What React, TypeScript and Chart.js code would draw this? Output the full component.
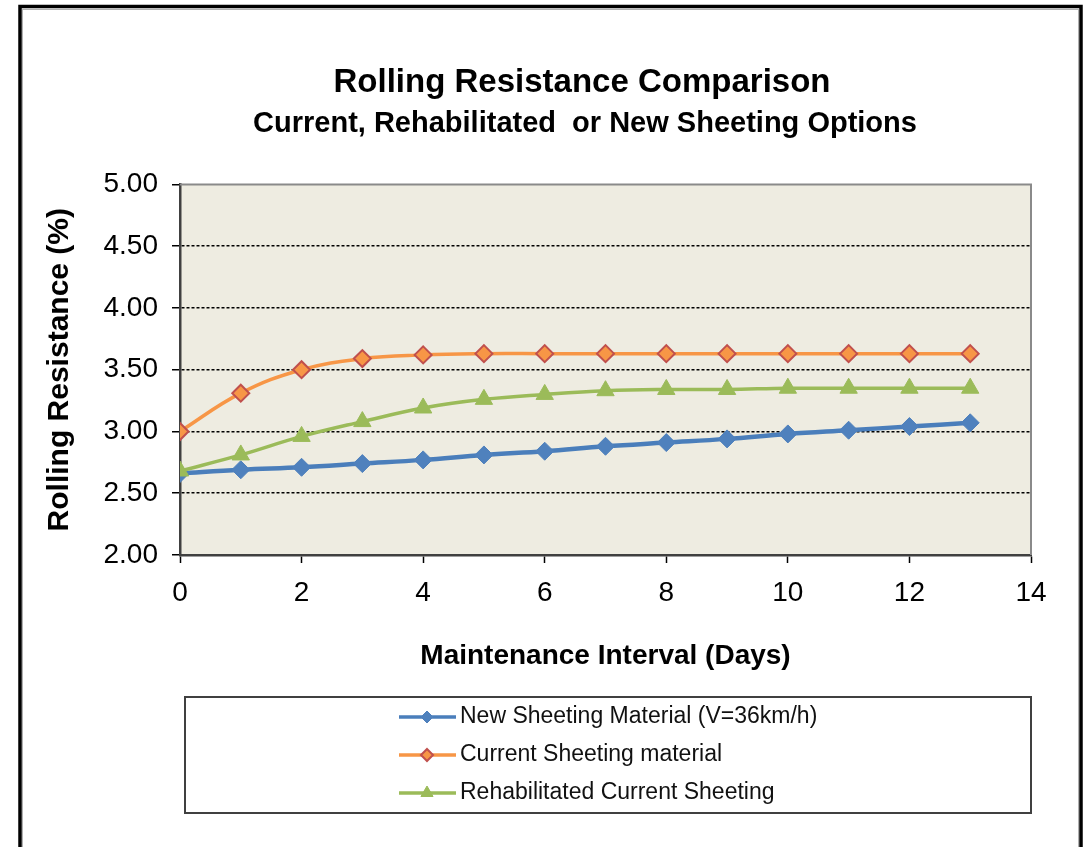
import React, { useEffect, useRef } from "react";
import { Chart, registerables } from "chart.js";

Chart.register(...registerables);

// ---- data ----
const days = [0, 1, 2, 3, 4, 5, 6, 7, 8, 9, 10, 11, 12, 13];
const newSheeting = [2.66, 2.69, 2.71, 2.74, 2.77, 2.81, 2.84, 2.88, 2.91, 2.94, 2.98, 3.01, 3.04, 3.07];
const currentSheeting = [3.0, 3.31, 3.5, 3.59, 3.62, 3.63, 3.63, 3.63, 3.63, 3.63, 3.63, 3.63, 3.63, 3.63];
const rehabSheeting = [2.68, 2.81, 2.96, 3.08, 3.19, 3.26, 3.3, 3.33, 3.34, 3.34, 3.35, 3.35, 3.35, 3.35];

const seriesNames = [
  "New Sheeting Material (V=36km/h)",
  "Current Sheeting material",
  "Rehabilitated Current Sheeting",
];
const titleText = "Rolling Resistance Comparison";
const subtitleText = "Current, Rehabilitated  or New Sheeting Options";
const xTitle = "Maintenance Interval (Days)";
const yTitle = "Rolling Resistance (%)";
const xMin = 0, xMax = 14, xStep = 2;
const yMin = 2, yMax = 5, yStep = 0.5;

const FONT = '"Liberation Sans", Arial, Helvetica, sans-serif';

function pts(ys: number[]) {
  return days.map((d, i) => ({ x: d, y: ys[i] }));
}

function drawMarker(ctx: CanvasRenderingContext2D, style: string, x: number, y: number, r: number) {
  ctx.beginPath();
  if (style === "triangle") {
    const h = r * Math.sin(Math.PI / 3);
    ctx.moveTo(x, y - r);
    ctx.lineTo(x + h, y + r / 2);
    ctx.lineTo(x - h, y + r / 2);
  } else {
    ctx.moveTo(x, y - r);
    ctx.lineTo(x + r, y);
    ctx.lineTo(x, y + r);
    ctx.lineTo(x - r, y);
  }
  ctx.closePath();
}

const framePlugin = {
  id: "frame",
  afterLayout(chart: any) {
    for (const b of chart.boxes) {
      const t = b.options && b.options.text;
      if (t === titleText) {
        b.left = 133;
        b.right = 1031;
      } else if (t === subtitleText) {
        b.left = 139;
        b.right = 1031;
      }
    }
  },
  beforeDraw(chart: any) {
    const { ctx, chartArea: a } = chart;
    ctx.save();
    ctx.fillStyle = "#ffffff";
    ctx.fillRect(0, 0, chart.width, chart.height);
    ctx.strokeStyle = "#b0b0b0";
    ctx.lineWidth = 1;
    ctx.strokeRect(22.5, 9.5, 1056, 900);
    ctx.strokeStyle = "#000000";
    ctx.lineWidth = 3.5;
    ctx.strokeRect(20, 6.5, 1061, 900);
    ctx.fillStyle = "#EEECE1";
    ctx.fillRect(a.left, a.top, a.right - a.left, a.bottom - a.top);
    ctx.restore();
  },
  beforeDatasetsDraw(chart: any) {
    const { ctx, chartArea: a } = chart;
    ctx.save();
    ctx.strokeStyle = "#8a8a8a";
    ctx.lineWidth = 2;
    ctx.beginPath();
    ctx.moveTo(a.left, a.top);
    ctx.lineTo(a.right, a.top);
    ctx.lineTo(a.right, a.bottom);
    ctx.stroke();
    ctx.restore();
  },
  afterDraw(chart: any) {
    const { ctx } = chart;
    ctx.save();
    // legend box
    ctx.strokeStyle = "#404040";
    ctx.lineWidth = 2;
    ctx.strokeRect(185, 697, 846, 116);
    const rows = [717, 755, 793];
    chart.data.datasets.forEach((ds: any, i: number) => {
      const y = rows[i];
      ctx.strokeStyle = ds.borderColor;
      ctx.lineWidth = 3.5;
      ctx.beginPath();
      ctx.moveTo(399, y);
      ctx.lineTo(456, y);
      ctx.stroke();
      drawMarker(ctx, ds.pointStyle, 427, y, ds.pointStyle === "triangle" ? 7 : 6);
      ctx.fillStyle = ds.pointBackgroundColor;
      ctx.fill();
      ctx.lineWidth = ds.pointBorderWidth;
      ctx.strokeStyle = ds.pointBorderColor;
      ctx.stroke();
      ctx.fillStyle = "#111111";
      ctx.font = `23px ${FONT}`;
      ctx.textBaseline = "middle";
      ctx.textAlign = "left";
      ctx.fillText(ds.label, 460, y);
    });
    ctx.restore();
  },
};

export default function App() {
  const ref = useRef<HTMLCanvasElement | null>(null);
  useEffect(() => {
    if (!ref.current) return;
    const chart = new Chart(ref.current, {
      type: "line",
      data: {
        datasets: [
          {
            label: seriesNames[0],
            data: pts(newSheeting),
            borderColor: "#4A7EBB",
            backgroundColor: "#4F81BD",
            borderWidth: 4.5,
            pointStyle: "rectRot",
            pointRadius: 9,
            pointBackgroundColor: "#4F81BD",
            pointBorderColor: "#4F81BD",
            pointBorderWidth: 1,
            tension: 0.4,
            order: 1,
          },
          {
            label: seriesNames[1],
            data: pts(currentSheeting),
            borderColor: "#F79646",
            backgroundColor: "#F79646",
            borderWidth: 3.5,
            pointStyle: "rectRot",
            pointRadius: 8.5,
            pointBackgroundColor: "#F79646",
            pointBorderColor: "#C0504D",
            pointBorderWidth: 2,
            tension: 0.4,
            order: 1,
          },
          {
            label: seriesNames[2],
            data: pts(rehabSheeting),
            borderColor: "#9BBB59",
            backgroundColor: "#9BBB59",
            borderWidth: 3.5,
            pointStyle: "triangle",
            pointRadius: 10,
            pointBackgroundColor: "#9BBB59",
            pointBorderColor: "#9BBB59",
            pointBorderWidth: 1,
            tension: 0.4,
            order: 0,
          },
        ],
      },
      options: {
        animation: false,
        responsive: true,
        maintainAspectRatio: false,
        layout: { padding: { top: 0, left: 0, right: 53, bottom: 172 } },
        plugins: {
          legend: { display: false },
          tooltip: { enabled: false },
          title: {
            display: true,
            text: titleText,
            color: "#000",
            font: { family: FONT, size: 33, weight: "bold" },
            padding: { top: 63, bottom: 0 },
          },
          subtitle: {
            display: true,
            text: subtitleText,
            color: "#000",
            font: { family: FONT, size: 29, weight: "bold" },
            padding: { top: 4, bottom: 43 },
          },
        },
        scales: {
          x: {
            type: "linear",
            min: xMin,
            max: xMax,
            ticks: {
              stepSize: xStep,
              color: "#000",
              font: { family: FONT, size: 28 },
              padding: 13,
              maxRotation: 0,
            },
            grid: {
              drawOnChartArea: false,
              tickColor: "#000",
              tickWidth: 1.5,
              tickLength: 8,
            },
            border: { color: "#404040", width: 2.5 },
            title: {
              display: true,
              text: xTitle,
              color: "#000",
              font: { family: FONT, size: 28, weight: "bold" },
              padding: { top: 0, bottom: 2 },
            },
            afterFit: (s: any) => {
              s.height = 120;
            },
          },
          y: {
            min: yMin,
            max: yMax,
            ticks: {
              stepSize: yStep,
              color: "#000",
              font: { family: FONT, size: 28 },
              padding: 14,
              callback: (v: any) => Number(v).toFixed(2),
            },
            grid: {
              color: (c: any) =>
                c.tick && (c.tick.value === yMin || c.tick.value === yMax) ? "rgba(0,0,0,0)" : "#000",
              lineWidth: 1.5,
              tickColor: "#000",
              tickWidth: 1.5,
              tickLength: 8,
              tickBorderDash: [],
            },
            border: { color: "#404040", width: 2.5, dash: [3, 2] },
            title: {
              display: true,
              text: yTitle,
              color: "#000",
              font: { family: FONT, size: 30, weight: "bold" },
              padding: { top: 42, bottom: 0 },
            },
            afterFit: (s: any) => {
              s.width = 180;
            },
          },
        },
      },
      plugins: [framePlugin],
    } as any);
    return () => chart.destroy();
  }, []);
  return (
    <div style={{ position: "absolute", left: 0, top: 0, width: 1084, height: 847 }}>
      <canvas ref={ref} />
    </div>
  );
}
